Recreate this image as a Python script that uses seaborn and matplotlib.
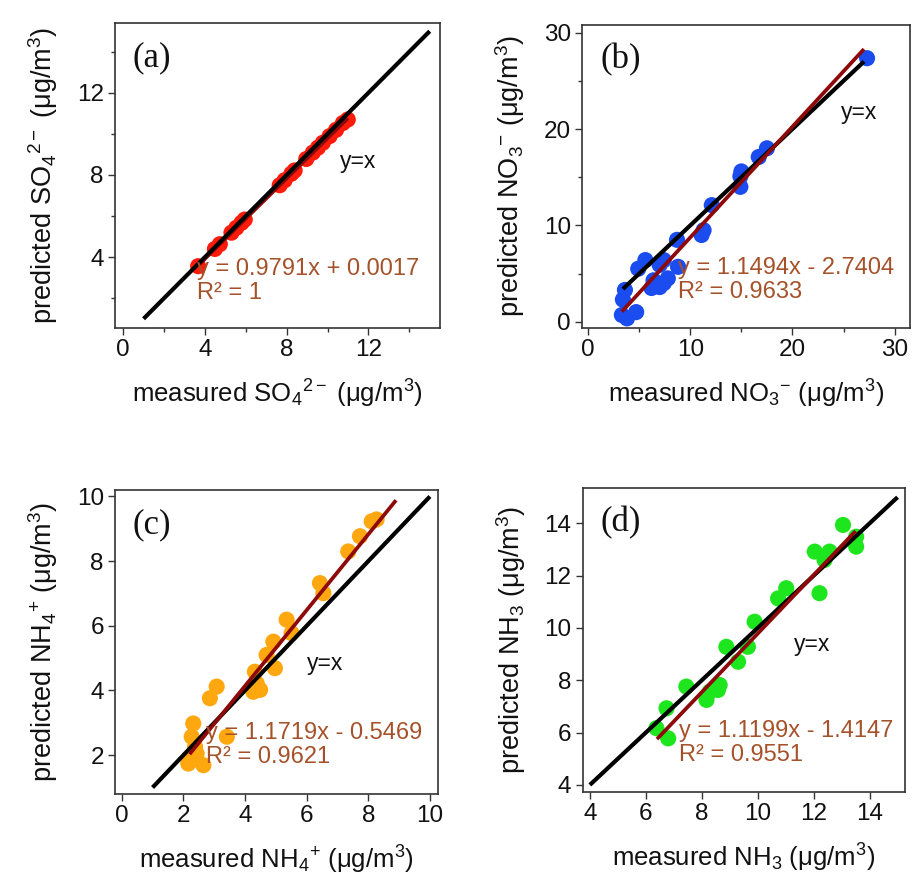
import numpy as np
import pandas as pd
import matplotlib
matplotlib.use('Agg')
import matplotlib.pyplot as plt
from matplotlib.ticker import MultipleLocator
import seaborn as sns

# (a) sulfate
so4_measured = [3.67, 4.49, 4.73, 5.30, 5.54, 5.79, 5.95, 7.66, 7.90, 8.23, 8.39, 8.96, 9.28,
                9.53, 9.77, 10.10, 10.42, 10.75, 10.99]
so4_predicted = [3.56, 4.40, 4.63, 5.19, 5.43, 5.67, 5.83, 7.50, 7.74, 8.06, 8.22, 8.78, 9.09,
                 9.33, 9.57, 9.89, 10.20, 10.53, 10.70]
so4_fit = (0.9791, 0.0017, "1")

# (b) nitrate
no3_measured = [27.3, 17.5, 16.7, 15.0, 14.9, 14.9, 12.1, 11.3, 11.1, 8.7, 8.8, 7.8, 7.4,
                7.0, 6.2, 6.4, 7.0, 7.4, 5.6, 4.9, 3.6, 3.4, 3.3, 3.8, 4.7]
no3_predicted = [27.35, 18.0, 17.1, 15.6, 15.1, 14.0, 12.1, 9.5, 9.0, 8.5, 5.7, 4.5, 4.0,
                 3.6, 3.5, 4.3, 5.9, 6.4, 6.4, 5.5, 3.3, 2.3, 0.7, 0.35, 1.0]
no3_fit = (1.1494, -2.7404, "0.9633")

# (c) ammonium
nh4_measured = [8.27, 8.11, 7.73, 7.35, 6.43, 6.54, 5.35, 5.51, 4.92, 4.70, 4.97, 4.32, 4.38,
                4.27, 4.49, 3.08, 2.86, 2.32, 2.27, 3.41, 2.38, 2.43, 2.16, 2.65, 2.27]
nh4_predicted = [9.29, 9.23, 8.77, 8.30, 7.32, 7.01, 6.19, 5.77, 5.51, 5.10, 4.69, 4.58, 4.22,
                 3.96, 4.02, 4.12, 3.76, 2.98, 2.57, 2.57, 2.26, 2.05, 1.74, 1.69, 1.84]
nh4_fit = (1.1719, -0.5469, "0.9621")

# (d) ammonia
nh3_measured = [13.05, 13.52, 13.52, 12.04, 12.57, 12.39, 12.21, 11.02, 10.73, 9.89, 9.65,
                9.30, 8.88, 8.64, 8.58, 8.29, 8.17, 7.45, 6.74, 6.38, 6.80]
nh3_predicted = [13.94, 13.49, 13.11, 12.92, 12.92, 12.60, 11.33, 11.52, 11.13, 10.24, 9.28,
                 8.71, 9.28, 7.82, 7.63, 7.57, 7.25, 7.76, 6.93, 6.17, 5.78]
nh3_fit = (1.1199, -1.4147, "0.9551")

# extent of the y=x line and of the fitted line in each panel
identity_ranges = [(1, 15), (3.4, 27), (1, 10), (4, 15)]
fit_ranges = [(3.67, 10.99), (3.3, 27.0), (2.2, 8.9), (6.4, 13.5)]

species_x = [r'SO$_4$$^{2-}$ ', r'NO$_3$$^{-}$ ', r'NH$_4$$^{+}$ ', r'NH$_3$ ']
panel_tags = ['(a)', '(b)', '(c)', '(d)']

sns.set_style('ticks')
plt.rcParams['font.family'] = ['Liberation Sans', 'DejaVu Sans']
plt.rcParams['mathtext.fontset'] = 'custom'
plt.rcParams['mathtext.rm'] = 'Liberation Sans'
plt.rcParams['mathtext.it'] = 'Liberation Sans:italic'
plt.rcParams['mathtext.bf'] = 'Liberation Sans:bold'
plt.rcParams['mathtext.default'] = 'regular'

FIT_COLOR = '#8e0a0a'
EQ_COLOR = '#a5522b'


def draw_panel(ax, measured, predicted, color, fit, ident, frange, species, tag,
               xlim, ylim, major, minor, yx_pos, eq_pos, red_on_top=True):
    df = pd.DataFrame({'measured': measured, 'predicted': predicted})
    sns.scatterplot(data=df, x='measured', y='predicted', color=color, s=135,
                    edgecolor='none', ax=ax, zorder=2)
    slope, intercept, r2 = fit
    fx = np.array(frange)
    zred = 4 if red_on_top else 2.5
    ax.plot(fx, slope * fx + intercept, color=FIT_COLOR, lw=2.7, zorder=zred,
            solid_capstyle='butt')
    ax.plot(ident, ident, color='black', lw=3.0, zorder=3, solid_capstyle='butt')

    ax.set_xlim(*xlim)
    ax.set_ylim(*ylim)
    ax.xaxis.set_major_locator(MultipleLocator(major))
    ax.yaxis.set_major_locator(MultipleLocator(major))
    if minor:
        ax.xaxis.set_minor_locator(MultipleLocator(minor))
        ax.yaxis.set_minor_locator(MultipleLocator(minor))
    ax.tick_params(which='major', direction='out', length=5, width=1, labelsize=17.5,
                   color='#333333', labelcolor='#111111', pad=3)
    ax.tick_params(which='minor', direction='out', length=3, width=1, color='#333333')
    for sp in ax.spines.values():
        sp.set_visible(True)
        sp.set_linewidth(1.2)
        sp.set_color('#333333')

    ax.set_xlabel('measured ' + species + r'(μg/m$^3$)', fontsize=18.5, labelpad=12,
                  color='#111111')
    ax.set_ylabel('predicted ' + species + r'(μg/m$^3$)', fontsize=19.5, labelpad=12,
                  color='#111111')

    ax.text(0.055, 0.885, tag, transform=ax.transAxes, fontsize=25,
            family=['Liberation Serif'], va='center', ha='left', color='#111111')
    ax.text(yx_pos[0], yx_pos[1], 'y=x', fontsize=16.5, va='center', ha='left',
            color='#111111')
    sign = '+' if intercept >= 0 else '-'
    ax.text(eq_pos[0], eq_pos[1],
            f'y = {slope:.4f}x {sign} {abs(intercept):.4f}\nR² = {r2}',
            color=EQ_COLOR, fontsize=17, va='center', ha='left', linespacing=1.1,
            zorder=5)


fig = plt.figure(figsize=(9.16, 8.94), dpi=100)
ax_a = fig.add_axes([0.1255, 0.6331, 0.3548, 0.3412])
ax_b = fig.add_axes([0.6354, 0.6331, 0.3580, 0.3390])
ax_c = fig.add_axes([0.1255, 0.1119, 0.3526, 0.3400])
ax_d = fig.add_axes([0.6360, 0.1144, 0.3515, 0.3394])

draw_panel(ax_a, so4_measured, so4_predicted, '#ff1a0a', so4_fit, identity_ranges[0],
           fit_ranges[0], species_x[0], panel_tags[0], (-0.4, 15.5), (0.55, 15.4), 4, 2,
           (10.6, 8.65), (3.6, 2.85), red_on_top=False)
draw_panel(ax_b, no3_measured, no3_predicted, '#1a4cf0', no3_fit, identity_ranges[1],
           fit_ranges[1], species_x[1], panel_tags[1], (-0.6, 31.5), (-0.65, 30.8), 10, 5,
           (24.7, 21.7), (8.8, 4.35))
draw_panel(ax_c, nh4_measured, nh4_predicted, '#ffa70f', nh4_fit, identity_ranges[2],
           fit_ranges[2], species_x[2], panel_tags[2], (-0.22, 10.26), (0.8, 10.2), 2, None,
           (6.0, 4.84), (2.75, 2.31))
draw_panel(ax_d, nh3_measured, nh3_predicted, '#1ee61e', nh3_fit, identity_ranges[3],
           fit_ranges[3], species_x[3], panel_tags[3], (3.74, 15.25), (3.74, 15.34), 2, None,
           (11.3, 9.35), (7.2, 5.6))

fig.savefig('out.png', dpi=100)
